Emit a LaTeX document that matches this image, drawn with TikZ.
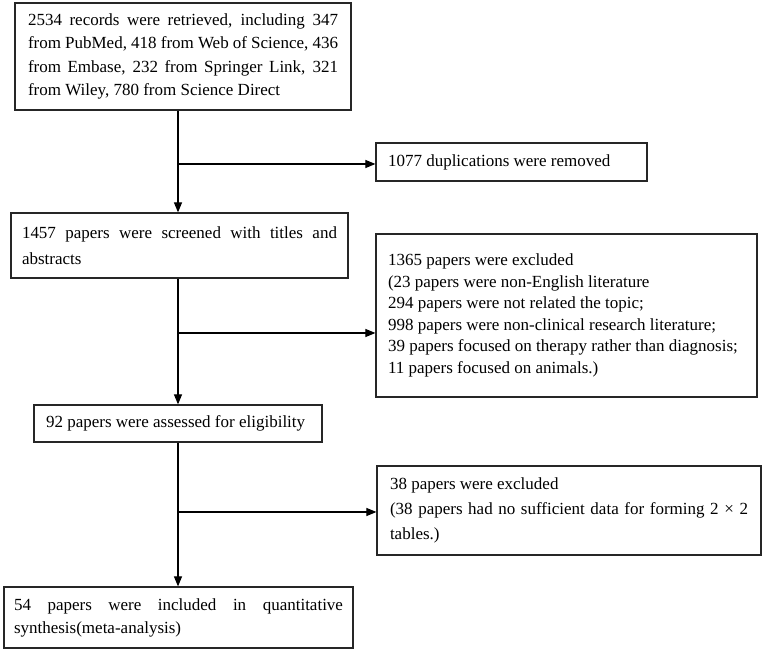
\documentclass[tikz,border=0pt]{standalone}
\usepackage{fontspec}
\setmainfont{Liberation Serif}
\usetikzlibrary{arrows.meta}
\newcommand{\JL}[2]{\makebox[#1][s]{#2}}
\newcommand{\NS}{\spaceskip=0pt\xspaceskip=0pt\hyphenpenalty=10000\relax}
\begin{document}
\begin{tikzpicture}[x=1pt,y=-1pt,
  box/.style={draw=black!85, line width=1.2pt, rectangle, inner sep=0pt, align=left},
  arr/.style={draw=black, line width=1.1pt, -{Triangle[length=10pt,width=8pt]}},
  fs/.style={font=\fontsize{17}{#1}\selectfont}]
\useasboundingbox (0,0) rectangle (764,652);
\fill[white] (0,0) rectangle (764,652);

\node[box, fs=23.5, minimum width=336pt, minimum height=107pt, text width=310pt] (b1) at (183,56.5)
 {\NS\JL{310pt}{2534 records were retrieved, including 347}\\
  \JL{310pt}{from PubMed, 418 from Web of Science, 436}\\
  \JL{310pt}{from Embase, 232 from Springer Link, 321}\\
  from Wiley, 780 from Science Direct\par\vspace{-5pt}};

\node[box, fs=20, minimum width=271pt, minimum height=38pt, text width=247pt] (dup) at (511.5,162)
 {\NS 1077 duplications were removed};

\node[box, fs=26.5, minimum width=337pt, minimum height=65pt, text width=315pt] (b2) at (179.5,245.5)
 {\NS\JL{315pt}{1457 papers were screened with titles and}\\
  abstracts};

\node[box, fs=21.5, minimum width=381pt, minimum height=163pt, text width=357pt] (ex1) at (566.5,315.5)
 {\NS 1365 papers were excluded\\
  (23 papers were non-English literature\\
  294 papers were not related the topic;\\
  998 papers were non-clinical research literature;\\
  39 papers focused on therapy rather than diagnosis;\\
  11 papers focused on animals.)\par\vspace{10pt}};

\node[box, fs=20, minimum width=288pt, minimum height=37pt, text width=264pt] (b3) at (178,423.5)
 {\NS 92 papers were assessed for eligibility};

\node[box, fs=25, minimum width=384pt, minimum height=89pt, text width=358pt] (ex2) at (569,510.5)
 {\NS 38 papers were excluded\\
  \JL{358pt}{(38 papers had no sufficient data for forming 2 × 2}\\
  tables.)};

\node[box, fs=23, minimum width=349pt, minimum height=61pt, text width=329pt] (b4) at (178.5,617.5)
 {\NS\JL{329pt}{54 papers were included in quantitative}\\
  synthesis(meta-analysis)};

\coordinate (sp) at (178,0);
\coordinate (j1) at (178,164);
\coordinate (j2) at (178,333);
\coordinate (j3) at (178,512);

\draw[arr] (b1.south -| sp) -- (b2.north -| sp);
\draw[arr] (b2.south -| sp) -- (b3.north -| sp);
\draw[arr] (b3.south -| sp) -- (b4.north -| sp);
\draw[arr] (j1) -- (j1 -| dup.west);
\draw[arr] (j2) -- (j2 -| ex1.west);
\draw[arr] (j3) -- (j3 -| ex2.west);
\end{tikzpicture}
\end{document}
